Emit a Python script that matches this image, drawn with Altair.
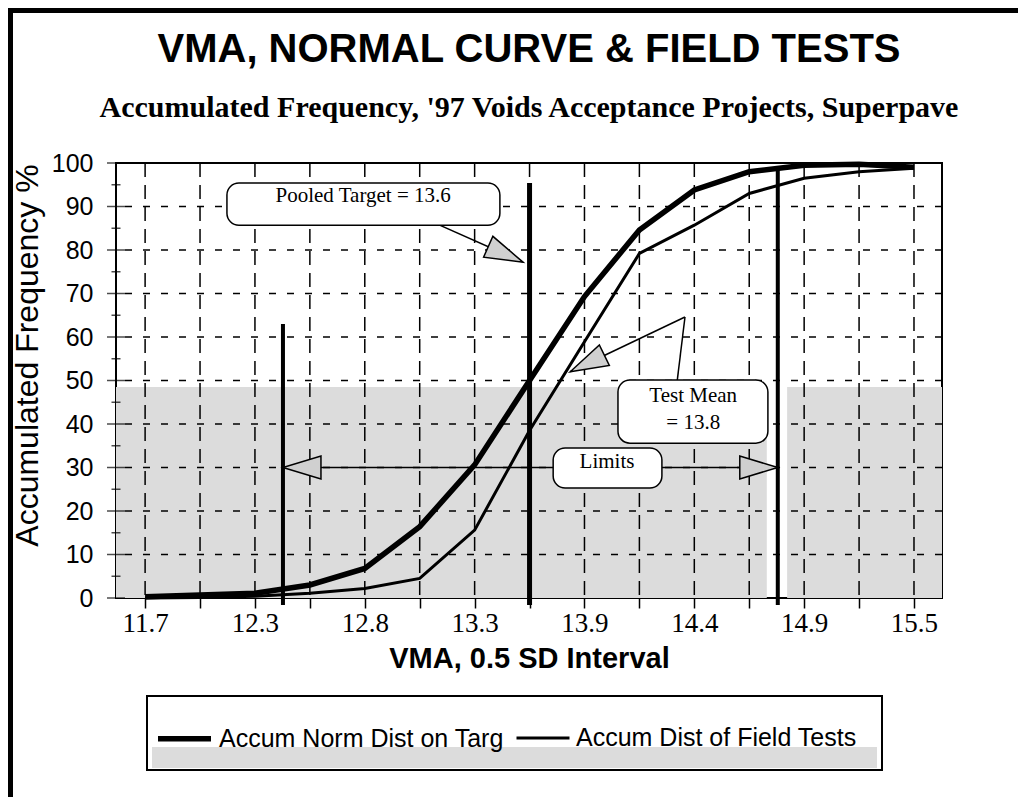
import json
import altair as alt
import pandas as pd

# ---------------- data ----------------
x_index = list(range(15))
x_tick_labels = ["11.7", "", "12.3", "", "12.8", "", "13.3", "", "13.9", "", "14.4", "", "14.9", "", "15.5"]

norm_series = "Accum Norm Dist on Targ"
field_series = "Accum Dist of Field Tests"
norm_values = [0.3, 0.7, 1.1, 3.0, 6.8, 16.4, 30.6, 50.0, 69.3, 84.6, 93.8, 98.0, 99.5, 99.7, 99.0]
field_values = [0.0, 0.1, 0.4, 1.1, 2.2, 4.5, 15.6, 38.5, 58.9, 79.2, 85.7, 93.0, 96.5, 98.0, 98.8]

y_grid_values = [10, 20, 30, 40, 50, 60, 70, 80, 90]
y_label_values = list(range(0, 101, 10))
y_tick_values = list(range(0, 101, 5))

title_text = "VMA, NORMAL CURVE & FIELD TESTS"
subtitle_text = "Accumulated Frequency,  '97 Voids Acceptance Projects, Superpave"

# vertical reference lines: lower limit, pooled target, upper limit (x in interval index units)
vline_x = [2.51, 7.0, 11.52]
vline_top = [63.0, 95.4, 99.0]
vline_bottom = [-1.6, -1.6, -1.6]
vline_width = [4, 5, 4]

# callout boxes
box_x = [1.49, 8.61, 7.43]
box_x2 = [6.46, 11.34, 9.41]
box_y = [85.7, 35.6, 25.3]
box_y2 = [95.4, 50.1, 34.5]

callout_text = ["Pooled Target = 13.6", "Test Mean", "= 13.8", "Limits"]
callout_x = [3.97, 9.98, 9.98, 8.41]
callout_y = [92.3, 46.5, 40.3, 31.3]

# connector lines
conn_x = [5.24, 9.69, 9.83, 7.43, 9.41]
conn_y = [86.4, 50.1, 64.6, 30.0, 30.0]
conn_x2 = [6.88, 9.83, 7.74, 2.51, 11.52]
conn_y2 = [77.2, 64.6, 52.0, 30.0, 30.0]

# arrow heads
head_x = [6.88, 7.74, 2.51, 11.52]
head_y = [77.2, 52.0, 30.0, 30.0]
head_angle = [114, 244, 270, 90]

# shaded background bands
shade_x = [-0.53, 11.69]
shade_x2 = [11.32, 14.51]
shade_y = [0, 0]
shade_y2 = [48.5, 48.5]

# ---------------- tables ----------------
lines_df = pd.DataFrame({
    "x": x_index * 2,
    "y": norm_values + field_values,
    "series": [norm_series] * 15 + [field_series] * 15,
})
vl_df = pd.DataFrame({"x": vline_x, "y": vline_bottom, "y2": vline_top, "w": vline_width})
box_df = pd.DataFrame({"x": box_x, "x2": box_x2, "y": box_y, "y2": box_y2})
txt_df = pd.DataFrame({"x": callout_x, "y": callout_y, "t": callout_text})
conn_df = pd.DataFrame({"x": conn_x, "y": conn_y, "x2": conn_x2, "y2": conn_y2})
head_df = pd.DataFrame({"x": head_x, "y": head_y, "angle": head_angle})
shade_df = pd.DataFrame({"x": shade_x, "x2": shade_x2, "y": shade_y, "y2": shade_y2})
vgrid_df = pd.DataFrame({"x": x_index})
hgrid_df = pd.DataFrame({"y": y_grid_values})
ytick_df = pd.DataFrame({"y": y_tick_values,
                         "len": [18 if v % 10 == 0 else 9 for v in y_tick_values]})
one_df = pd.DataFrame({"title": [title_text], "subtitle": [subtitle_text]})

# ---------------- scales / axes ----------------
xs = alt.Scale(domain=[-0.53, 14.51], nice=False, zero=False)
ys = alt.Scale(domain=[0, 100], nice=False, zero=False)

x_axis = alt.Axis(
    values=x_index,
    labelExpr=json.dumps(x_tick_labels) + "[datum.value]",
    title="VMA, 0.5 SD Interval",
    grid=False, domain=False,
    ticks=True, tickSize=10, tickWidth=1.5, tickColor="black",
    labelFont="Liberation Serif", labelFontSize=27, labelColor="black",
    labelPadding=2, labelFlush=False, labelOverlap=False, labelBaseline="top",
    titleFont="Liberation Sans", titleFontSize=29, titleFontWeight="bold",
    titleColor="black", titleY=69, titleBaseline="alphabetic",
)
y_axis = alt.Axis(
    values=y_label_values,
    title="Accumulated Frequency %",
    grid=False, domain=False, ticks=False, tickSize=0,
    labelFont="Liberation Sans", labelFontSize=25, labelColor="black",
    labelPadding=23, labelBaseline="middle",
    titleFont="Liberation Sans", titleFontSize=32, titleFontWeight="normal",
    titleColor="black", titleAngle=270, titleX=-89, titleY=192,
    titleAlign="center", titleBaseline="middle",
)


def X(f="x"):
    return alt.X(f"{f}:Q", scale=xs, axis=x_axis)


def Y(f="y"):
    return alt.Y(f"{f}:Q", scale=ys, axis=y_axis)


# ---------------- layers ----------------
shade = alt.Chart(shade_df).mark_rect(color="#dcdcdc").encode(
    x=X(), x2="x2:Q", y=Y(), y2="y2:Q")

vgrid = alt.Chart(vgrid_df).mark_rule(color="black", strokeWidth=1.5, strokeDash=[14, 8]).encode(x=X())
hgrid = alt.Chart(hgrid_df).mark_rule(color="black", strokeWidth=1.5, strokeDash=[7, 11]).encode(y=Y())

yticks = alt.Chart(ytick_df).mark_tick(color="black", thickness=1.5).encode(
    y=Y(), x=alt.value(0), size=alt.Size("len:Q", scale=None, legend=None))

curves = alt.Chart(lines_df).mark_line(color="black").encode(
    x=X(), y=Y(),
    strokeWidth=alt.StrokeWidth(
        "series:O",
        scale=alt.Scale(domain=[norm_series, field_series], range=[5.5, 3]),
        legend=alt.Legend(
            orient="none", legendX=39, legendY=546, direction="horizontal",
            title=None, symbolType="stroke", symbolSize=2809,
            symbolStrokeColor="black", labelFont="Liberation Sans",
            labelFontSize=25, labelColor="black", labelOffset=5,
            columnPadding=6, padding=0, labelLimit=500,
        ),
    ),
)

vlines = alt.Chart(vl_df).mark_rule(color="black").encode(
    x=X(), y=Y(), y2="y2:Q", strokeWidth=alt.StrokeWidth("w:Q", scale=None, legend=None))

conns = alt.Chart(conn_df).mark_rule(color="black", strokeWidth=1.5).encode(
    x=X(), y=Y(), x2="x2:Q", y2="y2:Q")

heads = alt.Chart(head_df).mark_point(
    shape="M0,0 L-0.6,2 L0.6,2 Z", size=1444, filled=True, fill="#d0d0d0",
    stroke="black", strokeWidth=1.5, opacity=1,
).encode(x=X(), y=Y(), angle=alt.Angle("angle:Q", scale=None))

boxes = alt.Chart(box_df).mark_rect(
    fill="white", stroke="black", strokeWidth=1.5, cornerRadius=12).encode(
    x=X(), x2="x2:Q", y=Y(), y2="y2:Q")

texts = alt.Chart(txt_df).mark_text(
    font="Liberation Serif", fontSize=21, color="black", align="center", baseline="middle"
).encode(x=X(), y=Y(), text="t:N")

# chart title and subtitle (positions in pixels relative to the plot origin)
title_mark = alt.Chart(one_df).mark_text(
    font="Liberation Sans", fontSize=40, fontWeight="bold", color="black",
    align="center", baseline="alphabetic",
).encode(x=alt.value(413), y=alt.value(-101), text="title:N")
subtitle_mark = alt.Chart(one_df).mark_text(
    font="Liberation Serif", fontSize=30, fontWeight="bold", color="black",
    align="center", baseline="alphabetic",
).encode(x=alt.value(413), y=alt.value(-46), text="subtitle:N")

# decorative frame of the page and legend box (pixel positions relative to plot origin)
legend_box = alt.Chart(one_df).mark_rect(fill="white", stroke="black", strokeWidth=2).encode(
    x=alt.value(31), x2=alt.value(766), y=alt.value(533), y2=alt.value(607))
legend_shade = alt.Chart(one_df).mark_rect(fill="#dcdcdc").encode(
    x=alt.value(36), x2=alt.value(761), y=alt.value(584), y2=alt.value(605))
top_bar = alt.Chart(one_df).mark_rect(fill="black").encode(
    x=alt.value(-108), x2=alt.value(910), y=alt.value(-155), y2=alt.value(-150))
left_bar = alt.Chart(one_df).mark_rect(fill="black").encode(
    x=alt.value(-108), x2=alt.value(-103), y=alt.value(-155), y2=alt.value(642))

chart = alt.layer(
    shade, vgrid, hgrid, yticks, curves, vlines, conns, boxes, heads, texts,
    legend_box, legend_shade, top_bar, left_bar, title_mark, subtitle_mark,
).properties(
    width=826, height=435,
    padding={"left": 108, "top": 155, "right": 76, "bottom": 199},
    autosize=alt.AutoSizeParams(type="none"),
).configure_view(stroke="black", strokeWidth=2)

chart.save("out.html", embed_options={"renderer": "svg", "actions": False})
